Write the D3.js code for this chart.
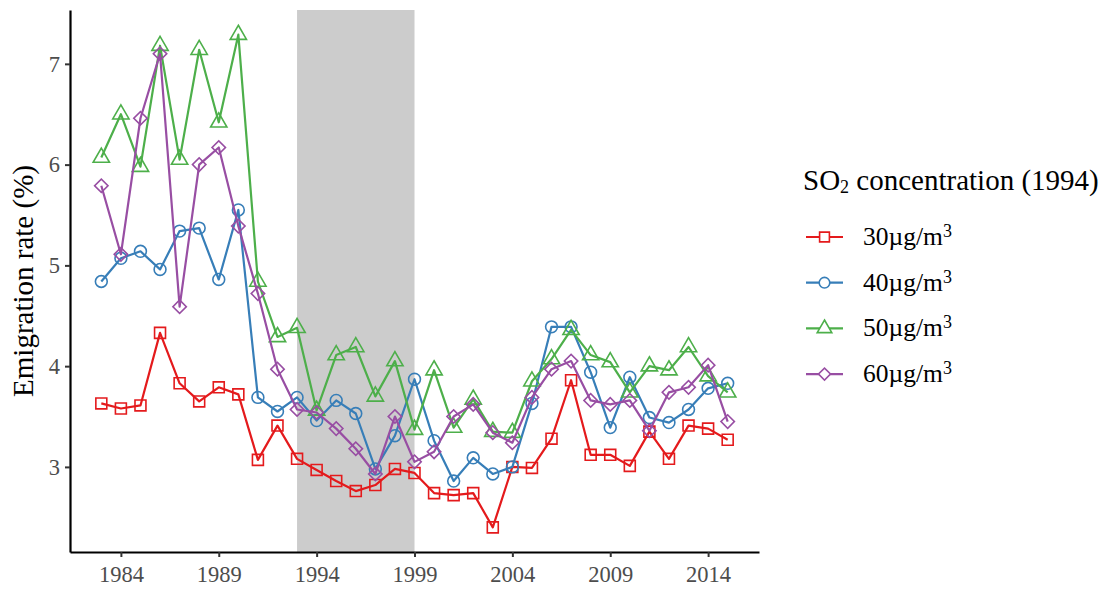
<!DOCTYPE html>
<html>
<head>
<meta charset="utf-8">
<script src="https://cdn.jsdelivr.net/npm/d3@7"></script>
<style>
  body { margin: 0; background: #fff; }
  text { font-family: "Liberation Serif", "DejaVu Serif", serif; }
</style>
</head>
<body>
<div id="chart"></div>
<script>
const years = d3.range(1983, 2016)
const yTicks = [3, 4, 5, 6, 7]
const xTicks = [1984, 1989, 1994, 1999, 2004, 2009, 2014]
const shadeYears = [1993, 1999]

const groups = ["30µg/m", "40µg/m", "50µg/m", "60µg/m"]
const colors = ["#E41A1C", "#377EB8", "#4DAF4A", "#984EA3"]
const shapes = ["square", "circle", "triangle", "diamond"]

const rate30 = [3.63, 3.58, 3.61, 4.33, 3.83, 3.65, 3.79, 3.72, 3.07, 3.41, 3.08, 2.97, 2.86, 2.76, 2.82, 2.98, 2.94,
  2.74, 2.72, 2.74, 2.40, 3.00, 2.99, 3.28, 3.86, 3.12, 3.12, 3.01, 3.35, 3.08, 3.41, 3.38, 3.27]
const rate40 = [4.84, 5.07, 5.14, 4.96, 5.34, 5.37, 4.86, 5.55, 3.69, 3.55, 3.69, 3.46, 3.66, 3.53, 2.98, 3.31, 3.87,
  3.26, 2.86, 3.09, 2.93, 3.00, 3.63, 4.39, 4.39, 3.94, 3.39, 3.89, 3.49, 3.44, 3.57, 3.78, 3.83]
const rate50 = [6.07, 6.50, 5.98, 7.18, 6.05, 7.14, 6.42, 7.29, 4.84, 4.29, 4.38, 3.56, 4.11, 4.19, 3.70, 4.05, 3.37,
  3.96, 3.39, 3.67, 3.35, 3.34, 3.85, 4.07, 4.36, 4.11, 4.04, 3.74, 4.00, 3.96, 4.19, 3.90, 3.74]
const rate60 = [5.79, 5.11, 6.46, 7.10, 4.59, 6.00, 6.17, 5.39, 4.72, 3.97, 3.57, 3.54, 3.38, 3.18, 2.93, 3.50, 3.05,
  3.15, 3.50, 3.62, 3.34, 3.24, 3.69, 3.97, 4.05, 3.66, 3.62, 3.66, 3.36, 3.74, 3.79, 4.01, 3.45]
const seriesValues = [rate30, rate40, rate50, rate60]

const W = 1110, H = 590
const margin = {top: 10, right: 351, bottom: 38, left: 70}
const width = W - margin.left - margin.right
const height = H - margin.top - margin.bottom
const serif = "Liberation Serif, DejaVu Serif, serif"

const svg = d3.select("#chart").append("svg")
    .attr("width", W).attr("height", H)
    .attr("font-family", serif)

const g = svg.append("g")
    .attr("transform", "translate(" + margin.left + "," + margin.top + ")")

// ggplot style 5% expansion
const xPad = (2015 - 1983) * 0.05
const x = d3.scaleLinear().domain([1983 - xPad, 2015 + xPad]).range([0, width])
const allVals = seriesValues.flat()
const yMin = d3.min(allVals), yMax = d3.max(allVals)
const yPad = (yMax - yMin) * 0.05
const y = d3.scaleLinear().domain([yMin - yPad, yMax + yPad]).range([height, 0])

// shaded period
g.append("rect")
    .attr("x", x(shadeYears[0]))
    .attr("y", 0)
    .attr("width", x(shadeYears[1]) - x(shadeYears[0]))
    .attr("height", height)
    .style("fill", "#CCCCCC")

const symbolType = {
  square: d3.symbolSquare, circle: d3.symbolCircle,
  triangle: d3.symbolTriangle, diamond: d3.symbolSquare
}
const symbolPath = (shape, size) => {
  return d3.symbol().type(symbolType[shape]).size(size)()
}
const symbolRotate = shape => shape === "diamond" ? " rotate(45)" : ""
const symbolSize = {square: 120, circle: 110, triangle: 115, diamond: 90}

const line = d3.line()
    .x((d, i) => x(years[i]))
    .y(d => y(d))

seriesValues.forEach((vals, k) => {
  g.append("path")
      .datum(vals)
      .attr("d", line)
      .style("fill", "none")
      .style("stroke", colors[k])
      .style("stroke-width", 2.2)
      .style("stroke-linejoin", "round")

  g.selectAll(".pt" + k)
      .data(vals)
      .enter()
      .append("path")
      .attr("class", "pt" + k)
      .attr("d", symbolPath(shapes[k], symbolSize[shapes[k]]))
      .attr("transform", (d, i) => "translate(" + x(years[i]) + "," + y(d) + ")" + symbolRotate(shapes[k]))
      .style("fill", "none")
      .style("stroke", colors[k])
      .style("stroke-width", 1.6)
})

// axes
const xAxis = g.append("g")
    .attr("transform", "translate(0," + height + ")")
    .call(d3.axisBottom(x).tickValues(xTicks).tickFormat(d3.format("d")).tickSize(5).tickSizeOuter(0))
const yAxis = g.append("g")
    .call(d3.axisLeft(y).tickValues(yTicks).tickFormat(d3.format("d")).tickSize(5).tickSizeOuter(0))

;[xAxis, yAxis].forEach(ax => {
  ax.attr("font-family", serif).attr("font-size", 22.5)
  ax.select(".domain").style("stroke", "#000").style("stroke-width", 2.2)
  ax.selectAll(".tick line").style("stroke", "#333").style("stroke-width", 2)
  ax.selectAll(".tick text").style("fill", "#4D4D4D")
})
xAxis.selectAll(".tick text").attr("dy", "0.98em")
yAxis.selectAll(".tick text").attr("x", -10)

svg.append("text")
    .attr("transform", "translate(33," + (margin.top + height / 2) + ") rotate(-90)")
    .attr("text-anchor", "middle")
    .attr("font-size", 29)
    .style("fill", "#000")
    .text("Emigration rate (%)")

// legend
const legend = svg.append("g").attr("transform", "translate(803,0)")
const title = legend.append("text")
    .attr("x", 0).attr("y", 190)
    .attr("font-size", 29)
title.append("tspan").text("SO")
title.append("tspan").text("2").attr("dy", 3).attr("font-size", 18)
title.append("tspan").text(" concentration (1994)").attr("dy", -3)

groups.forEach((name, k) => {
  const cy = 237 + k * 45.7
  legend.append("line")
      .attr("x1", 3).attr("x2", 40)
      .attr("y1", cy).attr("y2", cy)
      .style("stroke", colors[k])
      .style("stroke-width", 2.2)
  legend.append("path")
      .attr("d", symbolPath(shapes[k], symbolSize[shapes[k]] * 0.8))
      .attr("transform", "translate(21.5," + cy + ")" + symbolRotate(shapes[k]))
      .style("fill", "#fff")
      .style("stroke", colors[k])
      .style("stroke-width", 1.6)
  const t = legend.append("text")
      .attr("x", 60).attr("y", cy + 8)
      .attr("font-size", 25.5)
  t.append("tspan").text(name)
  t.append("tspan").text("3").attr("dy", -8).attr("font-size", 18)
})
</script>
</body>
</html>
